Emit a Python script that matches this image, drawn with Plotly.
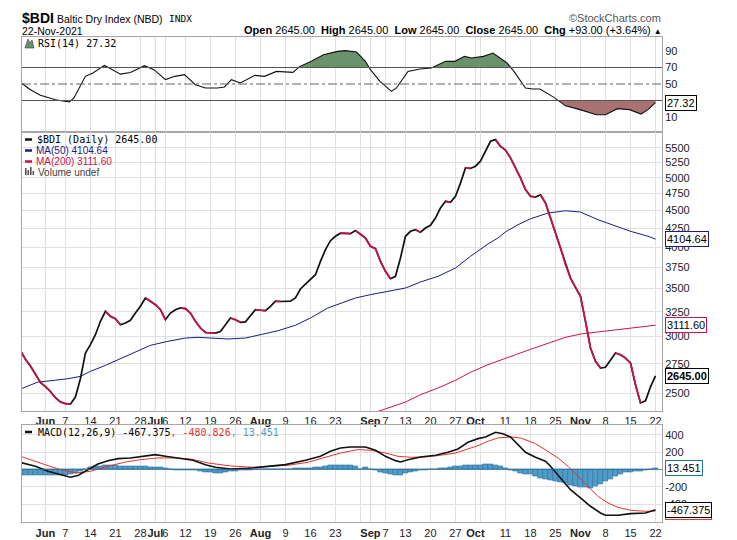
import numpy as np
import pandas as pd
import plotly.graph_objects as go

W, H = 737, 540

# ---------------- data ----------------
holidays = ["2021-05-31", "2021-07-05", "2021-09-06"]
dates = [d for d in pd.bdate_range("2021-05-24", "2021-11-22")
         if d.strftime("%Y-%m-%d") not in holidays]
idx = list(range(len(dates)))

close = [2870, 2790, 2730, 2660, 2590, 2555, 2515, 2465, 2432, 2418,
         2414, 2470, 2620, 2846, 2923, 3018, 3151, 3254, 3202, 3177,
         3117, 3134, 3161, 3236, 3307, 3396, 3360, 3324, 3271, 3167,
         3236, 3271, 3289, 3282, 3236, 3151, 3084, 3040, 3036, 3034,
         3050, 3117, 3185, 3167, 3141, 3145, 3202, 3271, 3265, 3262,
         3307, 3362, 3358, 3360, 3362, 3396, 3496, 3552, 3602, 3660,
         3821, 3967, 4083, 4141, 4183, 4180, 4177, 4217, 4172, 4119,
         4010, 3980, 3821, 3700, 3614, 3641, 3862, 4141, 4208, 4230,
         4195, 4253, 4290, 4391, 4535, 4634, 4620, 4709, 4913, 5158,
         5150, 5187, 5271, 5443, 5620, 5650, 5530, 5462, 5328, 5158,
         4996, 4812, 4709, 4698, 4733, 4609, 4391, 4185, 3990, 3780,
         3621, 3515, 3415, 3151, 2892, 2771, 2712, 2718, 2785, 2846,
         2830, 2800, 2756, 2570, 2424, 2441, 2552, 2645]

ma50_x = [0, 3.5, 6, 9.5, 12, 14, 17, 19.5, 23, 26, 29.5, 33, 35.5, 38, 41.5,
          45, 48, 51.5, 55, 58, 61.5, 63.5, 65, 67, 70, 73.5, 77, 80, 83.5,
          87, 90, 93.5, 95.5, 97, 99.5, 102, 105.5, 109, 112, 115.5, 119,
          122, 125.5, 127]
ma50_y = [2535, 2592, 2603, 2620, 2640, 2683, 2735, 2785, 2852, 2917, 2955,
          2986, 2993, 2986, 2977, 2986, 3018, 3057, 3111, 3185, 3289, 3325,
          3360, 3396, 3433, 3470, 3507, 3575, 3641, 3740, 3883, 4040, 4119,
          4200, 4298, 4381, 4462, 4495, 4477, 4368, 4276, 4208, 4141, 4104.64]

ma200_x = [71, 73, 75, 77, 80, 83.5, 87, 90, 93.5, 95.5, 97, 99, 102, 105.5,
           109, 112, 115.5, 119, 122, 127]
ma200_y = [2352, 2378, 2410, 2431, 2489, 2543, 2607, 2675, 2741, 2775, 2800,
           2830, 2880, 2939, 2993, 3025, 3044, 3067, 3084, 3111.60]

rsi_x = [0, 2, 4, 7, 9.8, 10.7, 13, 14.5, 16.8, 17.8, 20, 22, 24.8, 26.7, 29,
         30.9, 32.8, 35, 37, 39.4, 40.8, 42.2, 44, 46.9, 48.8, 51.2, 54.5,
         55.9, 58.2, 60.6, 63.4, 65, 67.2, 69, 70, 71.9, 74.2, 75.2, 77.5,
         79.9, 82.2, 85, 86.9, 88.8, 90.2, 92.6, 94.5, 95.9, 97.3, 98.7, 101,
         102.5, 103.9, 106.7, 109, 111.9, 115.2, 117, 119.4, 121.8, 124.1,
         125.5, 127]
rsi_y = [52, 43, 36.3, 31, 28.2, 33, 59.3, 63.3, 72.6, 69.4, 62, 64, 72.2,
         67.4, 55.3, 59.3, 61.3, 49.2, 45.2, 45.2, 46.4, 55.3, 51.2, 60.5,
         59.3, 65.3, 64.1, 71.4, 77.5, 85.5, 89.6, 90.5, 88.8, 77.5, 67.4,
         53.2, 41.1, 45.2, 65.3, 68.2, 69.4, 77.5, 77.5, 83.5, 81.5, 83.5,
         87.6, 81.5, 75.5, 65.3, 45.2, 43.9, 43.9, 33.8, 23.5, 18.9, 12.8,
         12.8, 20.1, 18.9, 13.6, 18.9, 27.32]

macd_x = [0, 3, 5.5, 8, 10, 11.5, 13.5, 15.5, 17.5, 19.5, 22, 25, 27, 29,
          31.5, 33, 34.5, 37, 39, 42, 45.5, 49, 53, 57, 60, 62, 64, 66, 69,
          71, 73, 75, 76, 77.5, 80, 83, 85.5, 87.5, 89.5, 91.5, 93, 95, 96.5,
          98, 99.5, 101, 103, 105, 106, 108, 110, 112, 114, 116, 117, 119.5,
          122, 125, 127]
macd_y = [80, 36, -22, -65, -91, -70, -3, 62, 100, 124, 132, 151, 170, 151,
          132, 120, 105, 54, 24, 5, 13, 32, 55, 105, 151, 209, 247, 259, 259,
          221, 151, 101, 85, 112, 143, 163, 197, 236, 313, 355, 374, 428, 412,
          374, 285, 197, 140, 94, 36, -99, -234, -330, -426, -503, -530, -530,
          -511, -503, -467.375]

signal_x = [0, 4, 7.5, 11, 14, 17.5, 21, 24, 27.5, 31, 34, 37.5, 42, 46.5,
            51, 53.5, 57.5, 61.5, 64, 67.5, 70, 73, 75.5, 78, 81, 83.5, 87,
            89.5, 91.5, 93.5, 95.5, 98, 100, 103, 105.5, 107.5, 109.5, 111.5,
            113.5, 115.5, 117.5, 119.5, 122, 125, 127]
signal_y = [151, 74, 5, -42, -22, 36, 85, 112, 132, 132, 120, 74, 40, 24, 44,
            47, 82, 151, 189, 228, 221, 189, 151, 140, 143, 159, 189, 236, 274,
            324, 363, 374, 363, 297, 209, 132, 36, -80, -203, -311, -388, -438,
            -472, -484, -480.826]

hist = [-70, -72, -72, -70, -68, -70, -72, -72, -70, -65,
        -58, -45, -20, 5, 22, 32, 40, 45, 46, 44,
        40, 36, 34, 32, 30, 30, 28, 25, 20, 10,
        2, -5, -8, -8, -10, -15, -22, -30, -38, -42,
        -40, -30, -22, -18, -15, -12, -8, -4, -2, 0,
        2, 4, 5, 6, 6, 7, 9, 12, 15, 20,
        25, 38, 46, 50, 50, 48, 45, 38, 2, 28,
        3, -12, -35, -50, -62, -70, -65, -50, -32, -18,
        -10, -6, -3, 0, 8, 15, 22, 30, 38, 45,
        48, 50, 52, 55, 55, 50, 40, 15, -5, -25,
        -42, -52, -60, -85, -100, -115, -125, -135, -150, -165,
        -180, -192, -205, -212, -215, -200, -175, -140, -110, -75,
        -55, -38, -30, -25, -20, -10, 0, 13.451]

price_ticks = [2500, 2750, 3000, 3250, 3500, 3750, 4000, 4250, 4500, 4750,
               5000, 5250, 5500]
rsi_ticks = [10, 50, 70, 90]
macd_ticks = [-400, -200, 0, 200, 400]
macd_ticktext = ["-400", "-200", "", "200", "400"]

tick_dates = ["2021-06-01", "2021-06-07", "2021-06-14", "2021-06-21",
              "2021-06-28", "2021-07-01", "2021-07-06", "2021-07-12",
              "2021-07-19", "2021-07-26", "2021-08-02", "2021-08-09",
              "2021-08-16", "2021-08-23", "2021-08-30", "2021-09-01",
              "2021-09-07", "2021-09-13", "2021-09-20", "2021-09-27",
              "2021-10-01", "2021-10-04", "2021-10-11", "2021-10-18",
              "2021-10-25", "2021-11-01", "2021-11-08", "2021-11-15",
              "2021-11-22"]
tick_text = ["<b>Jun</b>", "7", "14", "21", "28", "<b>Jul</b>", "6", "12",
             "19", "26", "<b>Aug</b>", "9", "16", "23", "", "<b>Sep</b>", "7",
             "13", "20", "27", "<b>Oct</b>", "", "11", "18", "25", "<b>Nov</b>",
             "8", "15", "22"]
month_dates = ["2021-06-01", "2021-07-01", "2021-08-02", "2021-09-01",
               "2021-10-01", "2021-11-01"]

# ---------------- helpers ----------------
date_pos = {d.strftime("%Y-%m-%d"): i for i, d in enumerate(dates)}
tick_idx = [date_pos[d] for d in tick_dates]
month_idx = [date_pos[d] for d in month_dates]


def px(x):
    return x / W


def py(y):
    return 1 - y / H


def clip_level(xs, ys, level, above):
    ox, oy = [], []
    for k in range(len(xs)):
        if k > 0:
            y0, y1 = ys[k - 1], ys[k]
            if (y0 - level) * (y1 - level) < 0:
                t = (level - y0) / (y1 - y0)
                ox.append(xs[k - 1] + t * (xs[k] - xs[k - 1]))
                oy.append(level)
        ox.append(xs[k])
        oy.append(max(ys[k], level) if above else min(ys[k], level))
    return ox, oy


BLACK = "#111111"
CRIMSON = "#cc1448"
NAVY = "#1c1c82"
MACD_RED = "#e8332b"
HIST = "#4f9cc8"
HIST_LINE = "#2a6f9c"
GREEN_FILL = "#6b936b"
RED_FILL = "#a87272"
TICKFONT = dict(family="Liberation Sans, Arial, sans-serif", size=11, color="#222222")
MONO = "DejaVu Sans Mono, monospace"
SANS = "Liberation Sans, Arial, sans-serif"
NARROW = "Liberation Sans Narrow, Arial Narrow, " + SANS

X0, X1 = 14, 654
XR = [0.32, 128.3]

fig = go.Figure()

# ---------------- RSI panel ----------------
gx, gy = clip_level(rsi_x, rsi_y, 70, True)
fig.add_trace(go.Scatter(x=gx, y=[70] * len(gx), mode="lines", line=dict(width=0),
                         xaxis="x", yaxis="y", hoverinfo="skip"))
fig.add_trace(go.Scatter(x=gx, y=gy, mode="lines", line=dict(width=0), fill="tonexty",
                         fillcolor=GREEN_FILL, xaxis="x", yaxis="y", hoverinfo="skip"))
rx, ry = clip_level(rsi_x, rsi_y, 30, False)
fig.add_trace(go.Scatter(x=rx, y=[30] * len(rx), mode="lines", line=dict(width=0),
                         xaxis="x", yaxis="y", hoverinfo="skip"))
fig.add_trace(go.Scatter(x=rx, y=ry, mode="lines", line=dict(width=0), fill="tonexty",
                         fillcolor=RED_FILL, xaxis="x", yaxis="y", hoverinfo="skip"))
fig.add_trace(go.Scatter(x=rsi_x, y=rsi_y, mode="lines", line=dict(color=BLACK, width=1.1),
                         xaxis="x", yaxis="y"))

# ---------------- Price panel ----------------
fig.add_trace(go.Scatter(x=ma200_x, y=ma200_y, mode="lines", line=dict(color=CRIMSON, width=1),
                         xaxis="x2", yaxis="y2"))
fig.add_trace(go.Scatter(x=ma50_x, y=ma50_y, mode="lines", line=dict(color=NAVY, width=1),
                         xaxis="x2", yaxis="y2"))
fig.add_trace(go.Scatter(x=idx, y=close, mode="lines", line=dict(color=BLACK, width=1.7),
                         xaxis="x2", yaxis="y2"))
dx, dy = [], []
for k in range(1, len(close)):
    if close[k] < close[k - 1]:
        dx += [idx[k - 1], idx[k], None]
        dy += [close[k - 1], close[k], None]
fig.add_trace(go.Scatter(x=dx, y=dy, mode="lines", line=dict(color=CRIMSON, width=1.7),
                         connectgaps=False, xaxis="x2", yaxis="y2"))

# ---------------- MACD panel ----------------
fig.add_trace(go.Bar(x=idx, y=hist, width=1.0, marker=dict(color=HIST, line=dict(color=HIST_LINE, width=0.6)),
                     xaxis="x3", yaxis="y3"))
fig.add_trace(go.Scatter(x=signal_x, y=signal_y, mode="lines", line=dict(color=MACD_RED, width=1),
                         xaxis="x3", yaxis="y3"))
fig.add_trace(go.Scatter(x=macd_x, y=macd_y, mode="lines", line=dict(color=BLACK, width=1.6),
                         xaxis="x3", yaxis="y3"))

# value-box pointers
ptr = [("y", rsi_y[-1], "#000000"), ("y2", ma50_y[-1], NAVY), ("y2", ma200_y[-1], CRIMSON),
       ("y2", close[-1], "#000000"), ("y3", hist[-1], HIST_LINE),
       ("y3", macd_y[-1], "#000000")]
for ya, val, col in ptr:
    xa = {"y": "x", "y2": "x2", "y3": "x3"}[ya]
    fig.add_trace(go.Scatter(x=[128.45], y=[val], mode="markers", cliponaxis=False,
                             marker=dict(symbol="triangle-left", size=9, color="white",
                                         line=dict(color=col, width=1)),
                             xaxis=xa, yaxis=ya, hoverinfo="skip"))

# ---------------- axes ----------------
def xax(anchor, labels):
    return dict(domain=[px(X0), px(X1)], range=XR, anchor=anchor, tickmode="array",
                tickvals=tick_idx, ticktext=tick_text, showticklabels=labels, tickangle=0,
                tickfont=TICKFONT, ticks="", showgrid=True, gridcolor="#e0e0e0", gridwidth=1,
                showline=True, linecolor="#a6a6a6", linewidth=1, mirror=True, zeroline=False,
                fixedrange=True)


def yax(anchor, dom, **kw):
    d = dict(domain=dom, anchor=anchor, side="right", tickfont=TICKFONT, ticks="",
             showline=True, linecolor="#a6a6a6", linewidth=1, mirror=True, zeroline=False,
             gridcolor="#e0e0e0", gridwidth=1, fixedrange=True)
    d.update(kw)
    return d


layout = dict(
    width=W, height=H, margin=dict(l=0, r=0, t=0, b=0),
    paper_bgcolor="white", plot_bgcolor="white", showlegend=False, bargap=0,
    xaxis=xax("y", False),
    xaxis2=xax("y2", True),
    xaxis3=xax("y3", True),
    yaxis=yax("x", [py(124), py(29)], range=[-8.2, 107], tickmode="array",
              tickvals=rsi_ticks, showgrid=False),
    yaxis2=yax("x2", [py(403), py(124)], type="log",
               range=[np.log10(2362), np.log10(5790)], tickmode="array",
               tickvals=price_ticks, ticktext=[str(v) for v in price_ticks], showgrid=True),
    yaxis3=yax("x3", [py(514.3), py(417.3)], range=[-611, 509], tickmode="array",
               tickvals=macd_ticks, ticktext=macd_ticktext, showgrid=True),
)
fig.update_layout(**layout)

shapes = []
# month separators
for xa, ya in (("x", "y domain"), ("x2", "y2 domain"), ("x3", "y3 domain")):
    for m in month_idx:
        shapes.append(dict(type="line", xref=xa, yref=ya, x0=m, x1=m, y0=0, y1=1,
                           line=dict(color="#b2b2b2", width=1), layer="below"))
# RSI reference lines
shapes.append(dict(type="line", xref="x domain", yref="y", x0=0, x1=1, y0=70, y1=70,
                   line=dict(color="#555555", width=1)))
shapes.append(dict(type="line", xref="x domain", yref="y", x0=0, x1=1, y0=30, y1=30,
                   line=dict(color="#555555", width=1)))
shapes.append(dict(type="line", xref="x domain", yref="y", x0=0, x1=1, y0=50, y1=50,
                   line=dict(color="#666666", width=1, dash="dashdot")))
# MACD zero line
shapes.append(dict(type="line", xref="x3 domain", yref="y3", x0=0, x1=1, y0=0, y1=0,
                   line=dict(color=HIST_LINE, width=0.8)))
# legend dashes
for yy, col in ((131.5, BLACK), (142.5, NAVY), (153.5, CRIMSON), (424, BLACK)):
    shapes.append(dict(type="line", xref="paper", yref="paper", x0=px(17), x1=px(24),
                       y0=py(yy), y1=py(yy), line=dict(color=col, width=2.5)))
# volume icon bars
for x0, h in ((17, 7), (19.5, 5), (22, 8), (24.5, 4)):
    shapes.append(dict(type="rect", xref="paper", yref="paper", x0=px(x0), x1=px(x0 + 1.6),
                       y0=py(167), y1=py(167 - h), line=dict(width=0), fillcolor="#555555"))
# RSI icon
shapes.append(dict(type="path", xref="paper", yref="paper",
                   path=f"M {px(17)},{py(40)} L {px(20)},{py(31)} L {px(22)},{py(35)} L {px(24)},{py(32)} L {px(26)},{py(40)} Z",
                   fillcolor=GREEN_FILL, line=dict(color="#333", width=0.6)))
# bottom toolbar strip
shapes.append(dict(type="rect", xref="paper", yref="paper", x0=px(5), x1=px(745),
                   y0=py(548), y1=py(534), fillcolor="#eeeeee", line=dict(color="#c4c4c4", width=1)))
fig.update_layout(shapes=shapes)

ann = []


def text(x, y, s, size=11, color="#000", family=SANS, xanchor="left", **kw):
    ann.append(dict(x=px(x), y=py(y), xref="paper", yref="paper", text=s, showarrow=False,
                    xanchor=xanchor, yanchor="middle", font=dict(size=size, color=color, family=family), **kw))


# header
text(12, 10, "<b>$BDI</b>", size=14, family=NARROW)
text(47, 10.5, "Baltic Dry Index (NBD)", size=10.5, family=NARROW)
text(159, 10.5, "INDX", size=9.5, family=MONO)
text(12, 23, "22-Nov-2021", size=10.5)
text(655, 10, "©StockCharts.com", size=11, color="#555", xanchor="right")
text(656, 22.5, "<b>Open</b> 2645.00  <b>High</b> 2645.00  <b>Low</b> 2645.00  <b>Close</b> 2645.00  "
     "<b>Chg</b> +93.00 (+3.64%) <span style='font-size:8px'>▲</span>", size=11, xanchor="right",
     family=NARROW)

# legends
text(28, 35.5, "RSI(14) 27.32", size=10, family=MONO)
text(27, 131.5, "$BDI (Daily) 2645.00", size=10, family=MONO)
text(26, 142.5, "MA(50) 4104.64", size=10, color=NAVY)
text(26, 153.5, "MA(200) 3111.60", size=10, color=CRIMSON)
text(28, 164.5, "Volume undef", size=10, color="#444")
text(28, 424, "MACD(12,26,9) -467.375<span style='color:%s'>, -480.826</span>"
     "<span style='color:%s'>, 13.451</span>" % (MACD_RED, HIST), size=10, family=MONO)

# value boxes
def vbox(yref, yval, s, col, bold=False):
    ann.append(dict(x=px(656.5), xref="paper", y=yval, yref=yref,
                    text=("<b>%s</b>" % s) if bold else s, showarrow=False,
                    xanchor="left", yanchor="middle", bgcolor="white", bordercolor=col,
                    borderwidth=1, borderpad=1, font=dict(size=11, color="#000", family=SANS)))


vbox("y", rsi_y[-1], "27.32", "#000")
vbox("y2", np.log10(ma50_y[-1]), "4104.64", NAVY)
vbox("y2", np.log10(ma200_y[-1]), "3111.60", CRIMSON)
vbox("y2", np.log10(close[-1]), "2645.00", "#000", bold=True)
vbox("y3", hist[-1], "13.451", HIST_LINE)
vbox("y3", signal_y[-1] - 12, "-480.826", MACD_RED)
vbox("y3", macd_y[-1], "-467.375", "#000")

fig.update_layout(annotations=ann)
fig.write_html("out.html")
